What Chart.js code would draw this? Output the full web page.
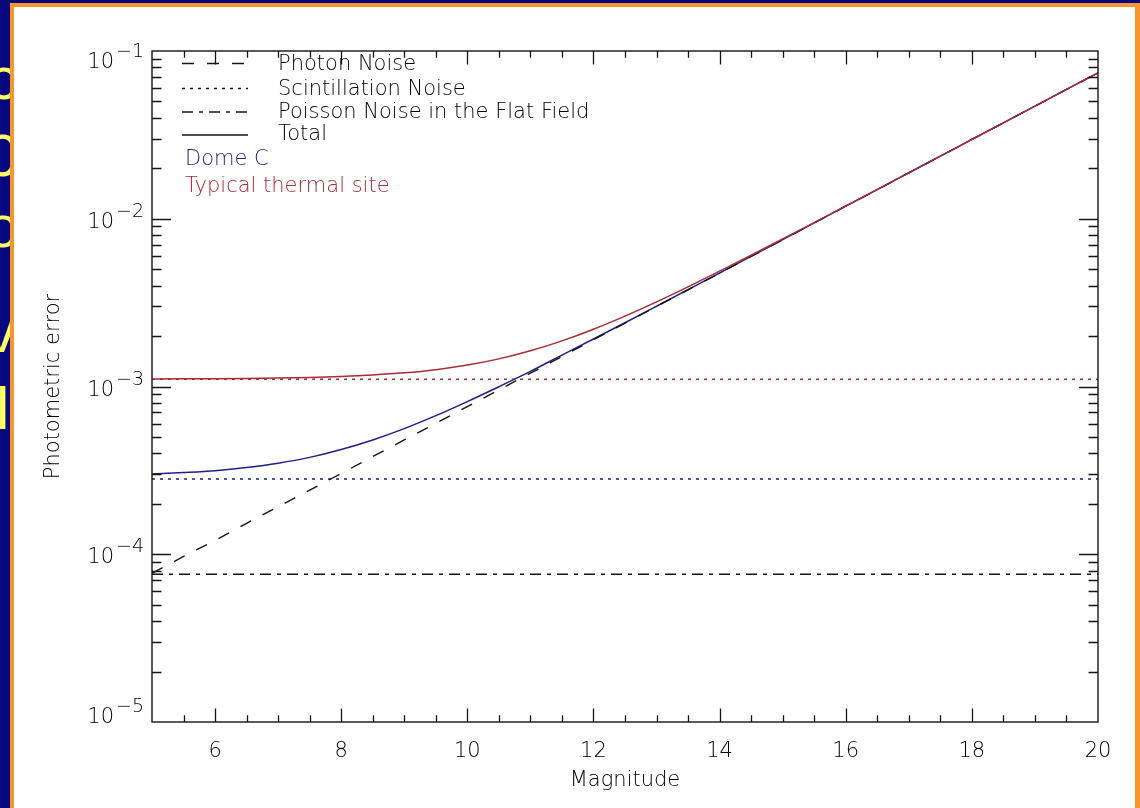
<!DOCTYPE html>
<html>
<head>
<meta charset="utf-8">
<script src="https://cdn.jsdelivr.net/npm/chart.js@4.4.1/dist/chart.umd.min.js"></script>
<style>
html,body{margin:0;padding:0;width:1140px;height:808px;overflow:hidden;background:#07077e;}
#slideText{position:absolute;left:0;top:0;width:14px;height:808px;overflow:hidden;}
.yl{position:absolute;font:60px 'Liberation Sans',Arial,sans-serif;color:#ffff66;line-height:1;white-space:nowrap;}
#border{position:absolute;left:10px;top:3px;width:1130px;height:805px;background:#f7962f;}
#panel{position:absolute;left:14px;top:7px;width:1121px;height:801px;background:#ffffff;}
#wrap{position:absolute;left:0;top:0;width:1140px;height:808px;}
canvas{display:block;}
</style>
</head>
<body>
<div id="slideText">
  <div class="yl" style="left:-12px;top:49px;">c</div>
  <div class="yl" style="left:-14px;top:126px;">0</div>
  <div class="yl" style="left:-14px;top:197px;">o</div>
  <div class="yl" style="left:-14px;top:302px;">v</div>
  <div class="yl" style="left:-4px;top:379px;">l</div>
</div>
<div id="border"></div>
<div id="panel"></div>
<div id="wrap"><canvas id="c" width="1140" height="808"></canvas></div>
<script>
// ---------- data ----------
const mags = [5,5.5,6,6.5,7,7.5,8,8.5,9,9.5,10,10.5,11,11.5,12,12.5,13,13.5,14,14.5,15,15.5,16,16.5,17,17.5,18,18.5,19,19.5,20];
const photonNoise = [7.7e-5,9.7e-5,1.21e-4,1.53e-4,1.92e-4,2.41e-4,3.03e-4,3.82e-4,4.80e-4,6.03e-4,7.59e-4,9.54e-4,1.20e-3,1.51e-3,1.90e-3,2.39e-3,3.00e-3,3.77e-3,4.74e-3,5.96e-3,7.50e-3,9.43e-3,1.19e-2,1.49e-2,1.88e-2,2.36e-2,2.97e-2,3.73e-2,4.69e-2,5.90e-2,7.41e-2];
const domeCTotal = [3.01e-4,3.07e-4,3.15e-4,3.29e-4,3.49e-4,3.78e-4,4.21e-4,4.80e-4,5.61e-4,6.70e-4,8.13e-4,9.97e-4,1.23e-3,1.54e-3,1.92e-3,2.40e-3,3.01e-3,3.78e-3,4.75e-3,5.97e-3,7.51e-3,9.44e-3,1.19e-2,1.49e-2,1.88e-2,2.36e-2,2.97e-2,3.73e-2,4.69e-2,5.90e-2,7.41e-2];
const thermalTotal = [1.109e-3,1.111e-3,1.113e-3,1.117e-3,1.123e-3,1.133e-3,1.148e-3,1.171e-3,1.206e-3,1.260e-3,1.342e-3,1.461e-3,1.632e-3,1.871e-3,2.196e-3,2.629e-3,3.197e-3,3.929e-3,4.868e-3,6.062e-3,7.58e-3,9.49e-3,1.191e-2,1.495e-2,1.878e-2,2.361e-2,2.967e-2,3.729e-2,4.691e-2,5.901e-2,7.411e-2];
const flatMags = [5, 20];
const domeCScintillation = [2.81e-4, 2.81e-4];
const thermalScintillation = [1.104e-3, 1.104e-3];
const flatFieldNoise = [7.6e-5, 7.6e-5];

const xTickValues = [6,8,10,12,14,16,18,20];
const xTickLabels = ['6','8','10','12','14','16','18','20'];
const yTickValues = [1e-5,1e-4,1e-3,1e-2,1e-1];
const yTickBase = '10';
const yTickExponents = ['\u22125','\u22124','\u22123','\u22122','\u22121'];
const legendLabels = ['Photon Noise','Scintillation Noise','Poisson Noise in the Flat Field','Total'];
const siteLabels = ['Dome C','Typical thermal site'];
const xTitle = 'Magnitude';
const yTitle = 'Photometric error';

// ---------- styles ----------
const BLUE = '#1f1f88';
const RED = '#a82c34';
const INK = '#000000';
const FONT = "'DejaVu Sans', 'Liberation Sans', sans-serif";
const DASH = [12,13], DOT = [3,5], DASHDOT = [11,6,4,6];

const pts = (xs, ys) => xs.map((v, i) => ({x: v, y: ys[i]}));

const idlPlugin = {
  id: 'idl',
  afterDatasetsDraw(chart) {
    const {ctx, chartArea: a, scales: {x, y}} = chart;
    const w = a.right - a.left, h = a.bottom - a.top;
    ctx.save();
    ctx.strokeStyle = '#151515';
    ctx.lineWidth = 1.4;
    ctx.setLineDash([]);
    ctx.strokeRect(a.left, a.top, w, h);
    ctx.lineWidth = 1.3;
    // x ticks (bottom & top, inward)
    const xMaj = 0.02 * h, xMin = 0.01 * h;
    ctx.beginPath();
    for (let v = 5.5; v < 20; v += 0.5) {
      const px = Math.round(x.getPixelForValue(v)) + 0.5;
      const len = (v % 2 === 0) ? xMaj : xMin;
      ctx.moveTo(px, a.bottom); ctx.lineTo(px, a.bottom - len);
      ctx.moveTo(px, a.top); ctx.lineTo(px, a.top + len);
    }
    // y ticks (left & right, inward)
    const yMaj = 0.02 * w, yMin = 0.01 * w;
    for (let e = -5; e < -1; e++) {
      for (let k = 1; k <= 9; k++) {
        const v = k * Math.pow(10, e);
        if (k === 1 && e === -5) continue;
        const py = Math.round(y.getPixelForValue(v)) + 0.5;
        const len = (k === 1) ? yMaj : yMin;
        ctx.moveTo(a.left, py); ctx.lineTo(a.left + len, py);
        ctx.moveTo(a.right, py); ctx.lineTo(a.right - len, py);
      }
    }
    ctx.stroke();

    // x tick labels
    ctx.fillStyle = INK;
    ctx.font = '200 21px ' + FONT;
    ctx.textAlign = 'center';
    ctx.textBaseline = 'alphabetic';
    xTickValues.forEach((v, i) => {
      ctx.fillText(xTickLabels[i], x.getPixelForValue(v), a.bottom + 35);
    });
    // y tick labels 10^n
    yTickValues.forEach((v, i) => {
      let py = y.getPixelForValue(v);
      py = Math.min(Math.max(py, a.top + 8), a.bottom - 8);
      ctx.font = '200 19px ' + FONT;
      const we = ctx.measureText(yTickExponents[i]).width;
      ctx.textAlign = 'right';
      ctx.fillText(yTickExponents[i], a.left - 8, py - 2);
      ctx.font = '200 21px ' + FONT;
      ctx.fillText(yTickBase, a.left - 8 - we - 2, py + 9);
    });
    // axis titles
    ctx.font = '200 21px ' + FONT;
    ctx.textAlign = 'center';
    ctx.fillText(xTitle, (a.left + a.right) / 2, a.bottom + 64);
    ctx.save();
    ctx.translate(a.left - 93, (a.top + a.bottom) / 2);
    ctx.rotate(-Math.PI / 2);
    ctx.fillText(yTitle, 0, 0);
    ctx.restore();

    // legend
    const styles = [DASH, DOT, DASHDOT, []];
    const lineY = [12.5, 37.5, 61, 84];
    const baseY = [19, 44, 67, 89];
    ctx.textAlign = 'left';
    ctx.font = '200 21px ' + FONT;
    legendLabels.forEach((t, i) => {
      ctx.beginPath();
      ctx.setLineDash(styles[i]);
      ctx.lineWidth = 1.3;
      ctx.strokeStyle = '#151515';
      ctx.moveTo(a.left + 30, a.top + lineY[i]);
      ctx.lineTo(a.left + 96, a.top + lineY[i]);
      ctx.stroke();
      ctx.fillStyle = INK;
      ctx.fillText(t, a.left + 126, a.top + baseY[i]);
    });
    ctx.setLineDash([]);
    ctx.fillStyle = BLUE;
    ctx.fillText(siteLabels[0], a.left + 33, a.top + 114);
    ctx.fillStyle = RED;
    ctx.fillText(siteLabels[1], a.left + 33, a.top + 141);
    ctx.restore();
  }
};

new Chart(document.getElementById('c').getContext('2d'), {
  type: 'line',
  data: {
    datasets: [
      {label: 'Typical thermal site: Total', data: pts(mags, thermalTotal), borderColor: RED, borderWidth: 1.5, cubicInterpolationMode: 'monotone', order: 0},
      {label: 'Photon Noise', data: pts(mags, photonNoise), borderColor: '#151515', borderWidth: 1.4, borderDash: DASH, order: 1},
      {label: 'Dome C: Total', data: pts(mags, domeCTotal), borderColor: BLUE, borderWidth: 1.5, cubicInterpolationMode: 'monotone', order: 2},
      {label: 'Typical thermal site: Scintillation Noise', data: pts(flatMags, thermalScintillation), borderColor: RED, borderWidth: 1.4, borderDash: DOT, order: 3},
      {label: 'Dome C: Scintillation Noise', data: pts(flatMags, domeCScintillation), borderColor: BLUE, borderWidth: 1.4, borderDash: DOT, order: 4},
      {label: 'Poisson Noise in the Flat Field', data: pts(flatMags, flatFieldNoise), borderColor: '#151515', borderWidth: 1.4, borderDash: DASHDOT, order: 5}
    ]
  },
  options: {
    responsive: false,
    animation: false,
    events: [],
    devicePixelRatio: 1,
    layout: {padding: {left: 152, top: 51, right: 42, bottom: 86}},
    plugins: {legend: {display: false}, tooltip: {enabled: false}},
    elements: {point: {radius: 0}, line: {fill: false, tension: 0}},
    scales: {
      x: {type: 'linear', min: 5, max: 20, display: false},
      y: {type: 'logarithmic', min: 1e-5, max: 1e-1, display: false}
    }
  },
  plugins: [idlPlugin]
});
</script>
</body>
</html>
